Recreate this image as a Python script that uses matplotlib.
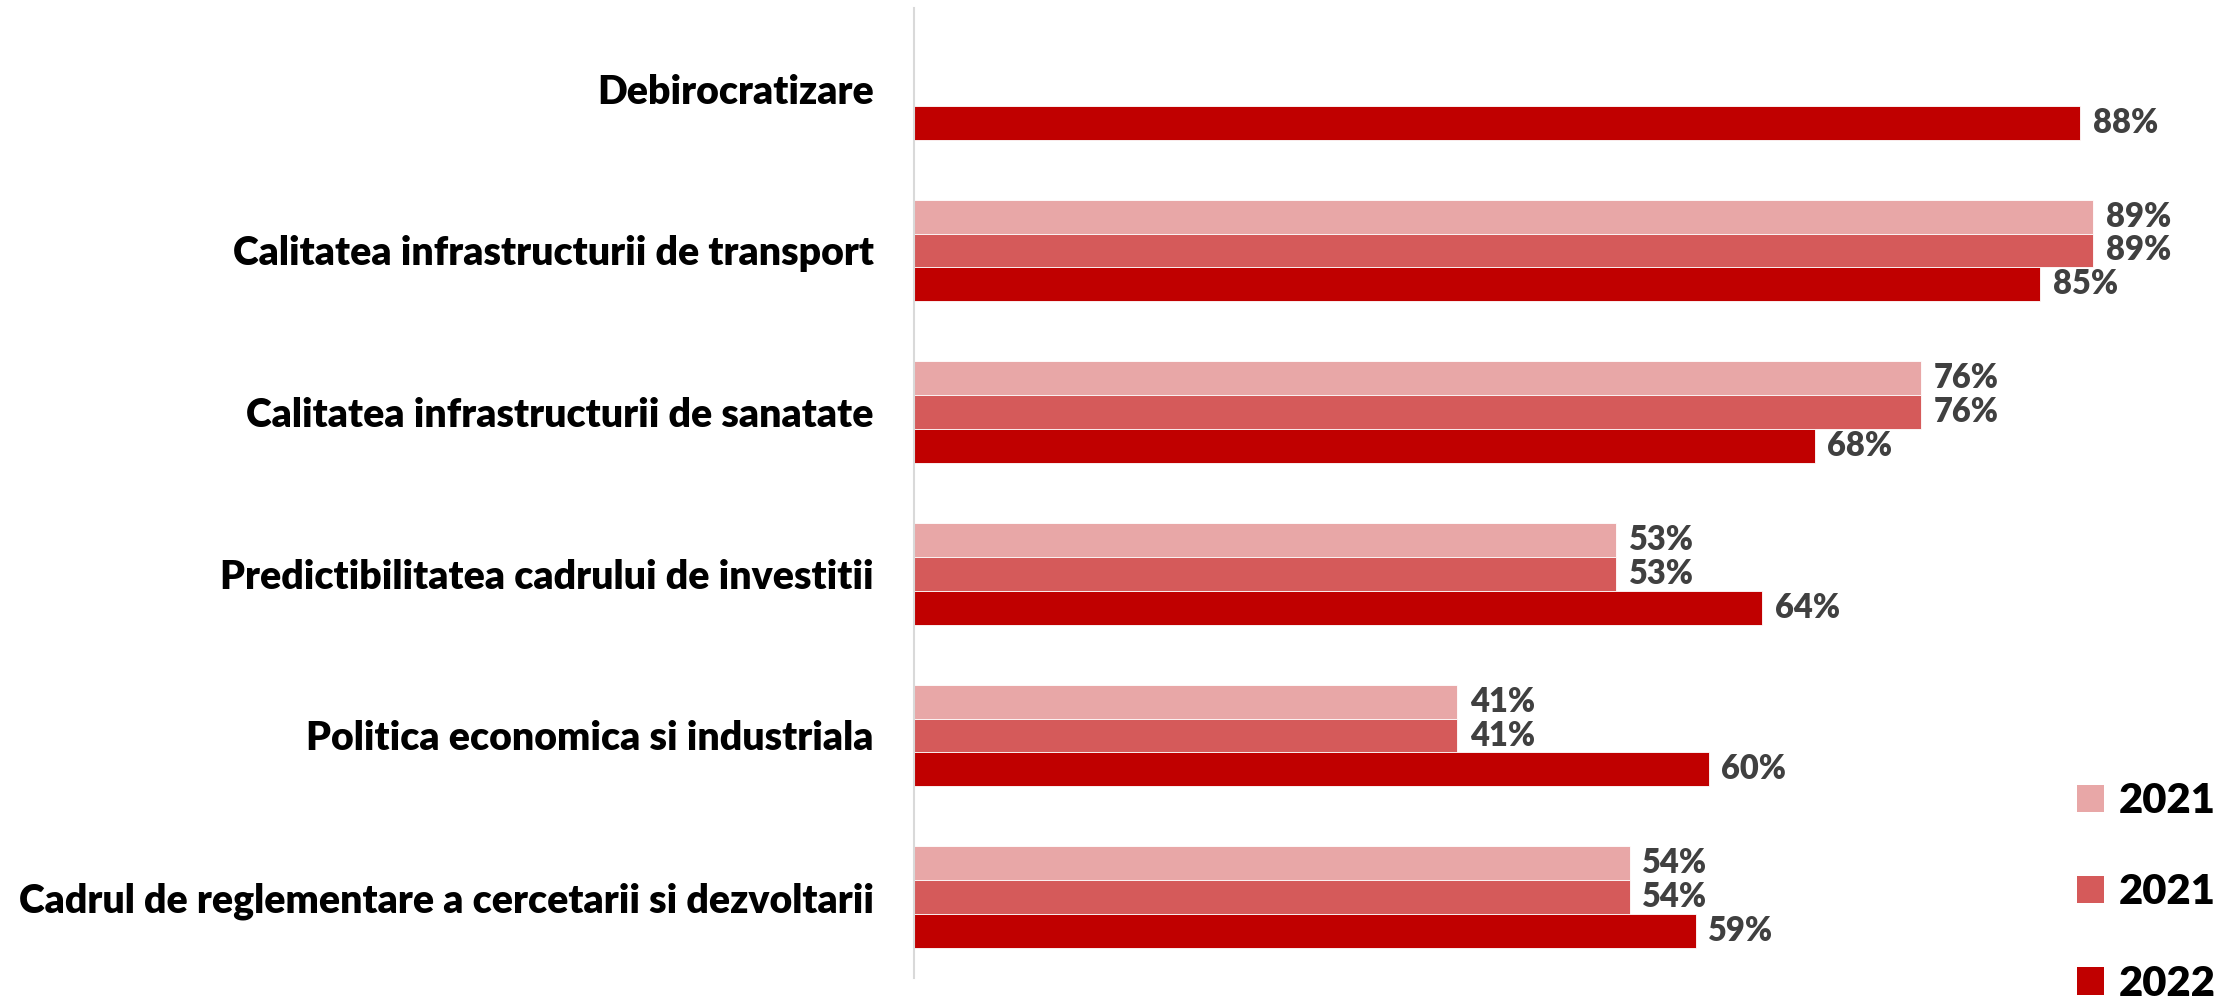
import numpy as np
import matplotlib.pyplot as plt
from matplotlib.patches import Patch

plt.rcParams['font.family'] = ['Lato', 'DejaVu Sans']
plt.rcParams['font.weight'] = 'heavy'

categories = [
    "Debirocratizare",
    "Calitatea infrastructurii de transport",
    "Calitatea infrastructurii de sanatate",
    "Predictibilitatea cadrului de investitii",
    "Politica economica si industriala",
    "Cadrul de reglementare a cercetarii si dezvoltarii",
]
series_names = ["2021", "2021", "2022"]
vals_2021a = [np.nan, 89, 76, 53, 41, 54]
vals_2021b = [np.nan, 89, 76, 53, 41, 54]
vals_2022 = [88, 85, 68, 64, 60, 59]
colors = ["#E8A7A7", "#D55A5A", "#C00000"]

W, H = 2236, 1008
fig = plt.figure(figsize=(W / 100, H / 100), dpi=100)
ax_left, ax_right = 914 / W, 2236 / W
ax = fig.add_axes([ax_left, 1 - 978 / H, ax_right - ax_left, (978 - 8) / H])

px_per_pct = 13.25
ax.set_xlim(0, (2236 - 914) / px_per_pct)
ax.set_ylim(len(categories) - 0.5, -0.5)

y = np.arange(len(categories))
bh = 0.21
offsets = [-bh, 0, bh]
for vals, off, col, name in zip([vals_2021a, vals_2021b, vals_2022], offsets, colors, series_names):
    ax.barh(y + off, vals, height=bh, color=col, edgecolor="white", linewidth=0.6, label=name)
    for yi, v in zip(y, vals):
        if not np.isnan(v):
            ax.annotate(f"{v:.0f}%", (v, yi + off), xytext=(9, 0), textcoords="offset points",
                        va="center", ha="left", fontsize=23.5, fontweight="heavy", color="#404040")

ax.set_yticks(y)
ax.set_yticklabels(categories, fontsize=28.3, fontweight="heavy", color="black")
ax.tick_params(axis="y", length=0, pad=29)
ax.set_xticks([])
for s in ["top", "right", "bottom"]:
    ax.spines[s].set_visible(False)
ax.spines["left"].set_color("#D9D9D9")
ax.spines["left"].set_linewidth(1.5)

handles = [Patch(facecolor=c, edgecolor="none") for c in colors]
fig.legend(handles, series_names, loc="upper left", bbox_to_anchor=(2077 / W, 1 - 782 / H),
           frameon=False, handlelength=0.64, handleheight=0.64,
           handletextpad=0.35, labelspacing=1.28, borderaxespad=0, borderpad=0,
           prop={"weight": "heavy", "size": 30})

fig.savefig("out.png", dpi=100)
